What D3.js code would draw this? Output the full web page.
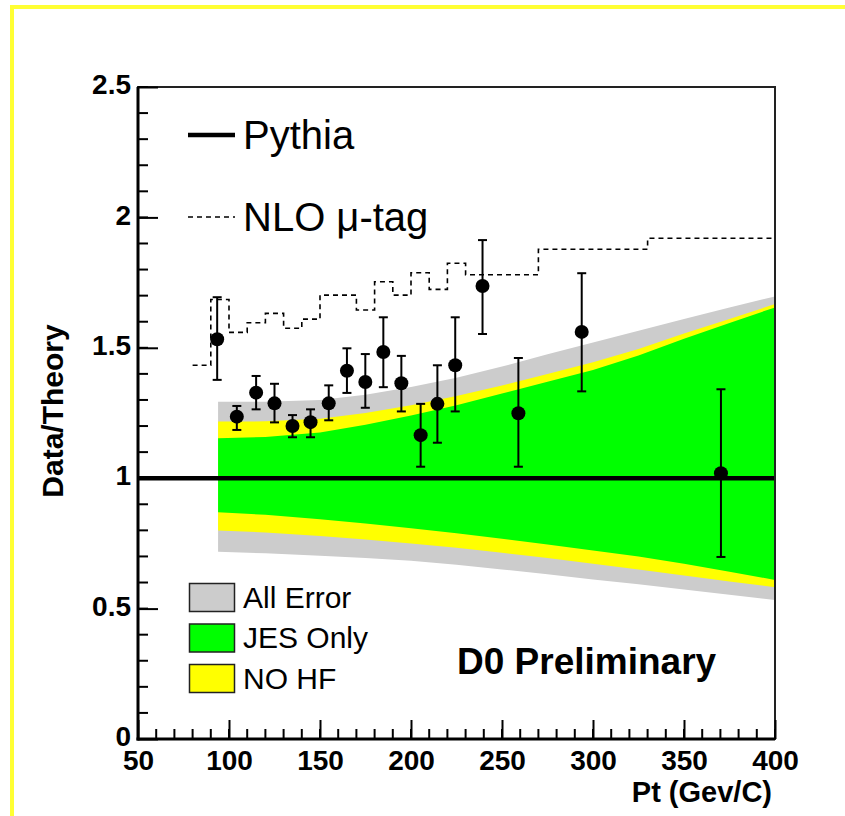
<!DOCTYPE html>
<html>
<head>
<meta charset="utf-8">
<script src="https://cdn.jsdelivr.net/npm/d3@7"></script>
<style>
  html, body { margin: 0; padding: 0; background: #ffffff; }
  svg { display: block; font-family: "Liberation Sans", Arial, Helvetica, sans-serif; }
</style>
</head>
<body>
<svg id="chart" width="845" height="816"></svg>
<script>
// ---------------- DATA ----------------
const xTickValues = [50, 100, 150, 200, 250, 300, 350, 400];
const xTickLabels = ["50", "100", "150", "200", "250", "300", "350", "400"];
const yTickValues = [0, 0.5, 1, 1.5, 2, 2.5];
const yTickLabels = ["0", "0.5", "1", "1.5", "2", "2.5"];

// data points (Pt, Data/Theory, upper and lower ends of error bars)
const pointPt   = [93.5, 104.3, 114.9, 125.0, 134.9, 144.8, 154.8, 164.8, 174.9, 184.8, 194.7, 205.3, 214.5, 224.3, 239.3, 259.0, 293.8, 370.3];
const pointVal  = [1.533, 1.236, 1.328, 1.287, 1.200, 1.215, 1.287, 1.412, 1.369, 1.484, 1.364, 1.165, 1.285, 1.433, 1.737, 1.249, 1.561, 1.019];
const pointHigh = [1.694, 1.277, 1.392, 1.362, 1.242, 1.264, 1.356, 1.498, 1.476, 1.617, 1.469, 1.285, 1.433, 1.617, 1.913, 1.461, 1.786, 1.341];
const pointLow  = [1.377, 1.185, 1.264, 1.214, 1.157, 1.157, 1.222, 1.327, 1.270, 1.349, 1.256, 1.044, 1.136, 1.256, 1.553, 1.044, 1.333, 0.698];

// NLO mu-tag step histogram (bin low edges, values) ; last bin ends at nloEnd
const nloEdges = [80, 90, 100, 110, 120, 130, 140, 150, 170, 180, 190, 200, 210, 220, 230, 270, 330];
const nloVals  = [1.433, 1.685, 1.559, 1.596, 1.632, 1.575, 1.610, 1.702, 1.645, 1.753, 1.702, 1.788, 1.724, 1.824, 1.780, 1.878, 1.920];
const nloEnd = 400;

// Pythia reference
const pythiaValue = 1.0;

// uncertainty bands
const bandPt     = [94, 120, 150, 175, 200, 225, 250, 275, 300, 325, 350, 375, 400];
const grayHigh   = [1.293, 1.293, 1.300, 1.320, 1.350, 1.385, 1.428, 1.475, 1.520, 1.565, 1.610, 1.655, 1.697];
const yellowHigh = [1.217, 1.218, 1.228, 1.250, 1.280, 1.315, 1.355, 1.400, 1.445, 1.495, 1.555, 1.610, 1.668];
const greenHigh  = [1.153, 1.158, 1.175, 1.205, 1.240, 1.280, 1.325, 1.370, 1.415, 1.470, 1.535, 1.595, 1.655];
const greenLow   = [0.869, 0.860, 0.843, 0.826, 0.808, 0.789, 0.768, 0.746, 0.723, 0.700, 0.672, 0.641, 0.610];
const yellowLow  = [0.799, 0.792, 0.778, 0.765, 0.750, 0.733, 0.714, 0.694, 0.672, 0.650, 0.627, 0.604, 0.582];
const grayLow    = [0.718, 0.712, 0.703, 0.694, 0.683, 0.668, 0.650, 0.632, 0.612, 0.593, 0.573, 0.553, 0.533];

const legendBands = ["All Error", "JES Only", "NO HF"];
const legendBandColors = ["#cccccc", "#00ff00", "#ffff00"];

// ---------------- DRAW ----------------
const svg = d3.select("#chart");

// page frame (yellow)
svg.append("rect").attr("x", 12).attr("y", 7).attr("width", 900).attr("height", 900)
  .attr("fill", "none").attr("stroke", "#ffff33").attr("stroke-width", 4);

const L = 138, R = 775, T = 87, B = 739;
const x = d3.scaleLinear().domain([50, 400]).range([L, R]);
const y = d3.scaleLinear().domain([0, 2.5]).range([B, T]);

const plot = svg.append("g");

// bands
function band(hi, lo, color) {
  const area = d3.area()
    .x((d, i) => x(bandPt[i]))
    .y0((d, i) => y(lo[i]))
    .y1((d, i) => y(hi[i]));
  plot.append("path").attr("d", area(bandPt)).attr("fill", color).attr("stroke", "none");
}
band(grayHigh, grayLow, "#cccccc");
band(yellowHigh, yellowLow, "#ffff00");
band(greenHigh, greenLow, "#00ff00");

// Pythia line
plot.append("line")
  .attr("x1", x(50)).attr("x2", x(400))
  .attr("y1", y(pythiaValue)).attr("y2", y(pythiaValue))
  .attr("stroke", "#000").attr("stroke-width", 4.5);

// NLO dashed step line
const nloPts = nloEdges.map((e, i) => [e, nloVals[i]]);
nloPts.push([nloEnd, nloVals[nloVals.length - 1]]);
const stepLine = d3.line().x(d => x(d[0])).y(d => y(d[1])).curve(d3.curveStepAfter);
plot.append("path").attr("d", stepLine(nloPts))
  .attr("fill", "none").attr("stroke", "#000").attr("stroke-width", 1.6)
  .attr("stroke-dasharray", "5,4");

// error bars & points
const pts = pointPt.map((p, i) => ({ p, v: pointVal[i], hi: pointHigh[i], lo: pointLow[i] }));
const eb = plot.append("g").attr("stroke", "#000").attr("stroke-width", 2);
pts.forEach(d => {
  eb.append("line").attr("x1", x(d.p)).attr("x2", x(d.p)).attr("y1", y(d.lo)).attr("y2", y(d.hi));
  eb.append("line").attr("x1", x(d.p) - 4.5).attr("x2", x(d.p) + 4.5).attr("y1", y(d.hi)).attr("y2", y(d.hi));
  eb.append("line").attr("x1", x(d.p) - 4.5).attr("x2", x(d.p) + 4.5).attr("y1", y(d.lo)).attr("y2", y(d.lo));
});
plot.append("g").selectAll("circle").data(pts).join("circle")
  .attr("cx", d => x(d.p)).attr("cy", d => y(d.v)).attr("r", 7).attr("fill", "#000");

// frame
svg.append("rect").attr("x", L).attr("y", T).attr("width", R - L).attr("height", B - T)
  .attr("fill", "none").attr("stroke", "#222").attr("stroke-width", 2);

// minor ticks
const minorY = d3.range(0, 2.5001, 0.1).map(v => +v.toFixed(2));
svg.append("g").selectAll("line").data(minorY).join("line")
  .attr("x1", L).attr("x2", L + 10).attr("y1", d => y(d)).attr("y2", d => y(d))
  .attr("stroke", "#000").attr("stroke-width", 2);
const minorX = d3.range(50, 400.001, 10);
svg.append("g").selectAll("line").data(minorX).join("line")
  .attr("x1", d => x(d)).attr("x2", d => x(d)).attr("y1", B).attr("y2", B - 10)
  .attr("stroke", "#000").attr("stroke-width", 2);

// major axes
const yAxis = d3.axisLeft(y).tickValues(yTickValues)
  .tickFormat((d, i) => yTickLabels[i]).tickSize(-20).tickPadding(7);
const gy = svg.append("g").attr("transform", `translate(${L},0)`).call(yAxis);
const xAxis = d3.axisBottom(x).tickValues(xTickValues)
  .tickFormat((d, i) => xTickLabels[i]).tickSize(-19).tickPadding(11);
const gx = svg.append("g").attr("transform", `translate(0,${B})`).call(xAxis);
[gx, gy].forEach(g => {
  g.select(".domain").remove();
  g.selectAll(".tick line").attr("stroke", "#000").attr("stroke-width", 2);
  g.selectAll(".tick text").attr("fill", "#000").attr("font-size", 28).attr("font-weight", "bold")
    .attr("font-family", "'Liberation Sans', Arial, sans-serif");
});
gy.selectAll(".tick text").attr("dy", "0.24em");
// thick left & bottom axis lines
svg.append("line").attr("x1", L).attr("x2", L).attr("y1", T).attr("y2", B + 1.5)
  .attr("stroke", "#000").attr("stroke-width", 3);
svg.append("line").attr("x1", L - 1.5).attr("x2", R).attr("y1", B).attr("y2", B)
  .attr("stroke", "#000").attr("stroke-width", 3);

// axis titles
svg.append("text").attr("transform", "translate(63,411) rotate(-90)")
  .attr("text-anchor", "middle").attr("font-size", 30).attr("font-weight", "bold").text("Data/Theory");
svg.append("text").attr("x", 772).attr("y", 802).attr("text-anchor", "end")
  .attr("font-size", 29).attr("font-weight", "bold").text("Pt (Gev/C)");

// D0 Preliminary
svg.append("text").attr("x", 457).attr("y", 674).attr("font-size", 37).attr("font-weight", "bold")
  .text("D0 Preliminary");

// legend: lines
svg.append("line").attr("x1", 188).attr("x2", 235).attr("y1", 135).attr("y2", 135)
  .attr("stroke", "#000").attr("stroke-width", 4.5);
svg.append("text").attr("x", 243).attr("y", 149).attr("font-size", 40).text("Pythia");
svg.append("line").attr("x1", 188).attr("x2", 235).attr("y1", 217).attr("y2", 217)
  .attr("stroke", "#000").attr("stroke-width", 1.6).attr("stroke-dasharray", "5,4");
svg.append("text").attr("x", 243).attr("y", 231).attr("font-size", 40).text("NLO \u03bc-tag");

// legend: bands
const legBoxTop = [583.5, 624, 664.5];
legendBands.forEach((name, i) => {
  svg.append("rect").attr("x", 189.5).attr("y", legBoxTop[i]).attr("width", 45).attr("height", 28)
    .attr("fill", legendBandColors[i]).attr("stroke", "#222").attr("stroke-width", 1.5);
  svg.append("text").attr("x", 243).attr("y", legBoxTop[i] + 24).attr("font-size", 30).text(name);
});
</script>
</body>
</html>
